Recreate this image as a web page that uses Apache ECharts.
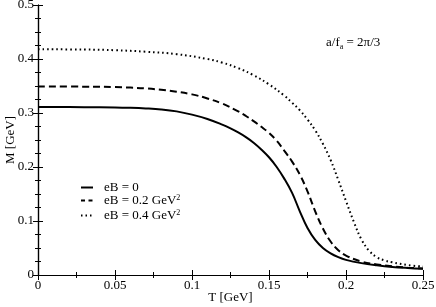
<!DOCTYPE html>
<html><head><meta charset="utf-8">
<script src="https://cdn.jsdelivr.net/npm/echarts@6/dist/echarts.min.js"></script>
<style>html,body{margin:0;padding:0;background:#fff}#c{width:436px;height:307px}</style>
</head><body><div id="c"></div>
<script>
// eB = 0
const T0 = [0, 0.03, 0.05, 0.06, 0.07, 0.08, 0.09, 0.10, 0.11, 0.12, 0.125, 0.13, 0.135, 0.14, 0.145, 0.15, 0.155, 0.16, 0.165, 0.17, 0.175, 0.18, 0.185, 0.19, 0.195, 0.20, 0.21, 0.22, 0.23, 0.24, 0.25];
const M0 = [0.311, 0.3108, 0.3103, 0.3096, 0.3084, 0.3065, 0.303, 0.297, 0.289, 0.278, 0.2715, 0.264, 0.2553, 0.245, 0.2325, 0.218, 0.200, 0.178, 0.152, 0.118, 0.087, 0.065, 0.050, 0.040, 0.033, 0.028, 0.022, 0.018, 0.015, 0.013, 0.0115];
// eB = 0.2 GeV^2
const T2 = [0, 0.03, 0.05, 0.06, 0.07, 0.08, 0.09, 0.10, 0.11, 0.12, 0.13, 0.135, 0.14, 0.145, 0.15, 0.155, 0.16, 0.165, 0.17, 0.175, 0.18, 0.185, 0.19, 0.195, 0.20, 0.21, 0.22, 0.23, 0.24, 0.25];
const M2 = [0.349, 0.3488, 0.348, 0.347, 0.3455, 0.343, 0.3395, 0.3345, 0.327, 0.317, 0.303, 0.2945, 0.285, 0.2745, 0.263, 0.2485, 0.230, 0.210, 0.186, 0.155, 0.118, 0.086, 0.062, 0.046, 0.036, 0.025, 0.0195, 0.016, 0.0135, 0.012];
// eB = 0.4 GeV^2
const T4 = [0, 0.03, 0.05, 0.07, 0.09, 0.11, 0.12, 0.13, 0.14, 0.15, 0.16, 0.165, 0.17, 0.175, 0.18, 0.185, 0.19, 0.195, 0.20, 0.205, 0.21, 0.215, 0.22, 0.225, 0.23, 0.24, 0.25];
const M4 = [0.418, 0.4175, 0.4163, 0.4135, 0.409, 0.4, 0.393, 0.383, 0.37, 0.353, 0.332, 0.319, 0.305, 0.288, 0.268, 0.243, 0.213, 0.176, 0.137, 0.099, 0.066, 0.045, 0.033, 0.027, 0.0235, 0.0185, 0.0155];
const seriesNames = ['eB = 0', 'eB = 0.2 GeV', 'eB = 0.4 GeV'];
const xTitle = 'T [GeV]';
const yTitle = 'M [GeV]';

const zip = (a, b) => a.map((v, i) => [v, b[i]]);
const font = "'Liberation Serif', 'DejaVu Serif', serif";
const baseAxis = {
  axisLine: {show: true, lineStyle: {color: '#000', width: 1.2}},
  axisTick: {show: true, inside: true, length: 5, lineStyle: {color: '#000'}},
  splitLine: {show: false}
};
const dashT = [7, 4], dotT = [1.6, 3];
const chart = echarts.init(document.getElementById('c'));
chart.setOption({
  animation: false,
  backgroundColor: '#fff',
  textStyle: {fontFamily: font},
  grid: {left: 38, right: 13, top: 5, bottom: 32, outerBoundsMode: 'none', containLabel: false},
  xAxis: [
    Object.assign({}, baseAxis, {type: 'value', min: 0, max: 0.25, interval: 0.05,
      minorTick: {show: true, splitNumber: 2, length: 3, lineStyle: {color: '#000'}},
      name: xTitle, nameLocation: 'middle', nameGap: 16, nameMoveOverlap: false,
      nameTextStyle: {fontFamily: font, fontSize: 13, color: '#000'},
      axisLabel: {fontFamily: font, fontSize: 13, color: '#000', margin: 4,
        formatter: v => String(+v.toFixed(3))}}),
    Object.assign({}, baseAxis, {type: 'value', min: 0, max: 0.25, interval: 0.05, position: 'top',
      minorTick: {show: true, splitNumber: 2, length: 3, lineStyle: {color: '#000'}},
      axisLabel: {show: false}})
  ],
  yAxis: [
    Object.assign({}, baseAxis, {type: 'value', min: 0, max: 0.5, interval: 0.1,
      minorTick: {show: true, splitNumber: 4, length: 3, lineStyle: {color: '#000'}},
      name: yTitle, nameLocation: 'middle', nameGap: 21, nameMoveOverlap: false,
      nameTextStyle: {fontFamily: font, fontSize: 13, color: '#000'},
      axisLabel: {fontFamily: font, fontSize: 13, color: '#000', margin: 4,
        formatter: v => String(+v.toFixed(3))}}),
    Object.assign({}, baseAxis, {type: 'value', min: 0, max: 0.5, interval: 0.1, position: 'right',
      minorTick: {show: true, splitNumber: 4, length: 3, lineStyle: {color: '#000'}},
      axisLabel: {show: false}})
  ],
  legend: {
    show: true, left: 80, top: 181, padding: 0, orient: 'vertical', itemWidth: 12, itemHeight: 8, itemGap: 0,
    itemStyle: {opacity: 0},
    textStyle: {fontFamily: font, fontSize: 13, lineHeight: 13, color: '#000', padding: [0, 0, 0, 6],
      rich: {s: {fontFamily: font, fontSize: 8, lineHeight: 8, color: '#000', verticalAlign: 'top', padding: [0, 0, 7, 0]}}},
    formatter: n => n === seriesNames[0] ? n : n + '{s|2}',
    data: [
      {name: seriesNames[0], lineStyle: {type: 'solid', width: 2}},
      {name: seriesNames[1], lineStyle: {type: [4, 3.5], width: 2}},
      {name: seriesNames[2], lineStyle: {type: [1.5, 3], width: 2}}
    ]
  },
  graphic: [{
    type: 'text', left: 326, top: 36,
    style: {text: 'a/f{s|a} = 2π/3', fontFamily: font, fontSize: 13, fill: '#000',
      rich: {s: {fontFamily: font, fontSize: 8, fill: '#000', padding: [8, 0, 0, 0]}}}
  }],
  series: [
    {name: seriesNames[0], type: 'line', data: zip(T0, M0), symbol: 'none', smooth: 0.4,
      lineStyle: {color: '#000', width: 2, type: 'solid'}, itemStyle: {color: '#000'}},
    {name: seriesNames[1], type: 'line', data: zip(T2, M2), symbol: 'none', smooth: 0.4,
      lineStyle: {color: '#000', width: 2, type: dashT}, itemStyle: {color: '#000'}},
    {name: seriesNames[2], type: 'line', data: zip(T4, M4), symbol: 'none', smooth: 0.4,
      lineStyle: {color: '#000', width: 2, type: dotT}, itemStyle: {color: '#000'}}
  ]
});
</script></body></html>
